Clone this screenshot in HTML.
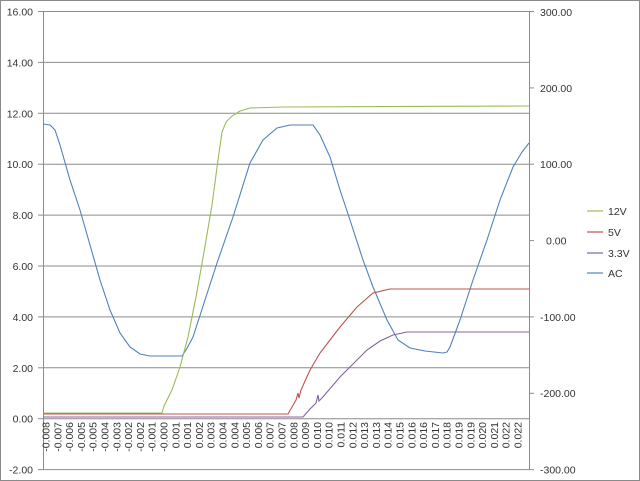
<!DOCTYPE html>
<html><head><style>
html,body{margin:0;padding:0;background:#fff;}
svg{display:block;}
text{font-family:"Liberation Sans",sans-serif;font-size:10.5px;fill:#333;}
</style></head><body>
<svg width="640" height="481" viewBox="0 0 640 481">
<rect x="0.5" y="0.5" width="639" height="480" fill="#fff" stroke="#8a8a8a"/>
<g stroke="#8c8c8c" stroke-width="1">
<line x1="43" y1="11.5" x2="529" y2="11.5"/>
<line x1="43" y1="62.4" x2="529" y2="62.4"/>
<line x1="43" y1="113.3" x2="529" y2="113.3"/>
<line x1="43" y1="164.2" x2="529" y2="164.2"/>
<line x1="43" y1="215.1" x2="529" y2="215.1"/>
<line x1="43" y1="266" x2="529" y2="266"/>
<line x1="43" y1="316.9" x2="529" y2="316.9"/>
<line x1="43" y1="367.8" x2="529" y2="367.8"/>
<line x1="43" y1="418.7" x2="529" y2="418.7"/>
<line x1="43" y1="469.6" x2="529" y2="469.6"/>
<line x1="43.5" y1="11.5" x2="43.5" y2="469.6"/>
<line x1="529.5" y1="11.5" x2="529.5" y2="469.6"/>
<line x1="38" y1="11.5" x2="43" y2="11.5"/><line x1="38" y1="62.4" x2="43" y2="62.4"/><line x1="38" y1="113.3" x2="43" y2="113.3"/><line x1="38" y1="164.2" x2="43" y2="164.2"/><line x1="38" y1="215.1" x2="43" y2="215.1"/><line x1="38" y1="266" x2="43" y2="266"/><line x1="38" y1="316.9" x2="43" y2="316.9"/><line x1="38" y1="367.8" x2="43" y2="367.8"/><line x1="38" y1="418.7" x2="43" y2="418.7"/><line x1="38" y1="469.6" x2="43" y2="469.6"/>
<line x1="529" y1="11.5" x2="534" y2="11.5"/><line x1="529" y1="87.9" x2="534" y2="87.9"/><line x1="529" y1="164.2" x2="534" y2="164.2"/><line x1="529" y1="240.6" x2="534" y2="240.6"/><line x1="529" y1="316.9" x2="534" y2="316.9"/><line x1="529" y1="393.3" x2="534" y2="393.3"/><line x1="529" y1="469.6" x2="534" y2="469.6"/>
</g>
<g text-anchor="end">
<text x="33" y="15.5">16.00</text><text x="33" y="66.4">14.00</text><text x="33" y="117.3">12.00</text><text x="33" y="168.2">10.00</text><text x="33" y="219.1">8.00</text><text x="33" y="270">6.00</text><text x="33" y="320.9">4.00</text><text x="33" y="371.8">2.00</text><text x="33" y="422.7">0.00</text><text x="33" y="473.6">-2.00</text>
</g>
<g>
<text x="540" y="16">300.00</text><text x="540" y="92">200.00</text><text x="540" y="168">100.00</text><text x="546" y="244.6">0.00</text><text x="540" y="321">-100.00</text><text x="540" y="397">-200.00</text><text x="540" y="473.6">-300.00</text>
</g>
<polyline fill="none" stroke="#4F81BD" stroke-width="1.1" points="43,124 50,125 55,130 60,145 70,180 80,210 90,245 100,280 110,310 120,333 130,347 140,354 150,356 165,356 182,356 186,350 193,337 205,300 217,263 233,217 250,163 263,140 277,128 290,125 313,125 320,135 330,157 340,190 350,220 363,260 373,287 387,320 398,340 410,348 425,351 443,353 447,352 450,347 460,320 473,280 487,240 500,200 513,167 522,152 529,143"/>
<polyline fill="none" stroke="#9BBB59" stroke-width="1.1" points="43,413 162,413 164,406 172,390 180,367 188,337 196,297 204,252 212,205 218,160 222,132 226,122 232,116 240,111 250,108 283,107 529,106"/>
<polyline fill="none" stroke="#C0504D" stroke-width="1.1" points="43,414 288,414 296,400 298,393 299,398 301,390 310,370 320,353 330,340 340,327 357,307 373,293 390,289 529,289"/>
<polyline fill="none" stroke="#8064A2" stroke-width="1.1" points="43,417 303,417 310,409 316,403 318,395 319,401 322,398 340,377 355,362 367,350 380,341 393,335 407,332 529,332"/>
<g stroke-width="1.2">
<line x1="587" y1="211" x2="603" y2="211" stroke="#9BBB59"/>
<line x1="587" y1="232" x2="603" y2="232" stroke="#C0504D"/>
<line x1="587" y1="253" x2="603" y2="253" stroke="#8064A2"/>
<line x1="587" y1="273" x2="603" y2="273" stroke="#4F81BD"/>
</g>
<text x="608" y="215">12V</text><text x="608" y="236">5V</text><text x="608" y="257">3.3V</text><text x="608" y="277">AC</text>
<g font-size="10">
<text transform="translate(49.5,422) rotate(-90)" text-anchor="end">-0.008</text>
<text transform="translate(61.3,422) rotate(-90)" text-anchor="end">-0.007</text>
<text transform="translate(73.1,422) rotate(-90)" text-anchor="end">-0.006</text>
<text transform="translate(84.9,422) rotate(-90)" text-anchor="end">-0.005</text>
<text transform="translate(96.7,422) rotate(-90)" text-anchor="end">-0.005</text>
<text transform="translate(108.5,422) rotate(-90)" text-anchor="end">-0.004</text>
<text transform="translate(120.3,422) rotate(-90)" text-anchor="end">-0.003</text>
<text transform="translate(132.1,422) rotate(-90)" text-anchor="end">-0.002</text>
<text transform="translate(143.9,422) rotate(-90)" text-anchor="end">-0.002</text>
<text transform="translate(155.7,422) rotate(-90)" text-anchor="end">-0.001</text>
<text transform="translate(167.5,422) rotate(-90)" text-anchor="end">-0.000</text>
<text transform="translate(179.3,422) rotate(-90)" text-anchor="end">0.001</text>
<text transform="translate(191.1,422) rotate(-90)" text-anchor="end">0.001</text>
<text transform="translate(202.9,422) rotate(-90)" text-anchor="end">0.002</text>
<text transform="translate(214.7,422) rotate(-90)" text-anchor="end">0.003</text>
<text transform="translate(226.5,422) rotate(-90)" text-anchor="end">0.004</text>
<text transform="translate(238.3,422) rotate(-90)" text-anchor="end">0.004</text>
<text transform="translate(250.1,422) rotate(-90)" text-anchor="end">0.005</text>
<text transform="translate(261.9,422) rotate(-90)" text-anchor="end">0.006</text>
<text transform="translate(273.7,422) rotate(-90)" text-anchor="end">0.007</text>
<text transform="translate(285.5,422) rotate(-90)" text-anchor="end">0.007</text>
<text transform="translate(297.3,422) rotate(-90)" text-anchor="end">0.008</text>
<text transform="translate(309.1,422) rotate(-90)" text-anchor="end">0.009</text>
<text transform="translate(320.9,422) rotate(-90)" text-anchor="end">0.010</text>
<text transform="translate(332.7,422) rotate(-90)" text-anchor="end">0.010</text>
<text transform="translate(344.5,422) rotate(-90)" text-anchor="end">0.011</text>
<text transform="translate(356.3,422) rotate(-90)" text-anchor="end">0.012</text>
<text transform="translate(368.1,422) rotate(-90)" text-anchor="end">0.013</text>
<text transform="translate(379.9,422) rotate(-90)" text-anchor="end">0.013</text>
<text transform="translate(391.7,422) rotate(-90)" text-anchor="end">0.014</text>
<text transform="translate(403.5,422) rotate(-90)" text-anchor="end">0.015</text>
<text transform="translate(415.3,422) rotate(-90)" text-anchor="end">0.016</text>
<text transform="translate(427.1,422) rotate(-90)" text-anchor="end">0.016</text>
<text transform="translate(438.9,422) rotate(-90)" text-anchor="end">0.017</text>
<text transform="translate(450.7,422) rotate(-90)" text-anchor="end">0.018</text>
<text transform="translate(462.5,422) rotate(-90)" text-anchor="end">0.019</text>
<text transform="translate(474.3,422) rotate(-90)" text-anchor="end">0.019</text>
<text transform="translate(486.1,422) rotate(-90)" text-anchor="end">0.020</text>
<text transform="translate(497.9,422) rotate(-90)" text-anchor="end">0.021</text>
<text transform="translate(509.7,422) rotate(-90)" text-anchor="end">0.022</text>
<text transform="translate(521.5,422) rotate(-90)" text-anchor="end">0.022</text>
</g>
</svg>
</body></html>
